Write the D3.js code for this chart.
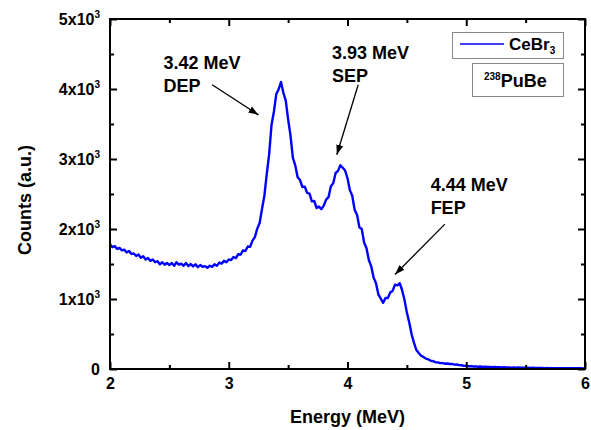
<!DOCTYPE html>
<html>
<head>
<meta charset="utf-8">
<script src="https://cdn.jsdelivr.net/npm/d3@7"></script>
<style>
  body { margin: 0; background: #fff; }
  text { font-family: "Liberation Sans", Arial, sans-serif; font-weight: bold; }
</style>
</head>
<body>
<div class="container"></div>
<script>
// energy grid (MeV), one bin every 0.02 MeV from 2 to 6
var energyStart = 2, energyStep = 0.02;

// counts, 10 bins per row (0.2 MeV)
var counts = [
  1780, 1740, 1755, 1715, 1730, 1695, 1705, 1665, 1685, 1645,
  1650, 1615, 1635, 1590, 1610, 1565, 1585, 1545, 1565, 1525,
  1540, 1495, 1525, 1490, 1515, 1485, 1515, 1475, 1525, 1490,
  1505, 1475, 1515, 1470, 1500, 1465, 1495, 1455, 1485, 1460,
  1470, 1445, 1475, 1460, 1495, 1475, 1520, 1505, 1545, 1525,
  1565, 1555, 1600, 1585, 1640, 1635, 1695, 1685, 1750, 1745,
  1835, 1885, 2005, 2085, 2285, 2475, 2785, 3065, 3485, 3675,
  3925, 3995, 4100, 3945, 3835, 3565, 3335, 3015, 2910, 2740,
  2700, 2600, 2605, 2515, 2505, 2395, 2400, 2300, 2320, 2285,
  2335, 2420, 2455, 2610, 2655, 2800, 2830, 2910, 2875, 2835,
  2725, 2555, 2475, 2275, 2205, 2025, 2000, 1805, 1725, 1555,
  1465, 1305, 1225, 1065, 1005, 945, 1015, 1015, 1095, 1115,
  1205, 1195, 1225, 1125, 985, 805, 665, 495, 375, 270,
  228, 188, 172, 148, 138, 118, 112, 97, 94, 84,
  85, 76, 79, 71, 72, 63, 64, 55, 54, 45,
  47, 39, 41, 36, 38, 33, 35, 30, 32, 28,
  30, 27, 28, 25, 26, 23, 25, 22, 23, 20,
  22, 19, 21, 18, 19, 17, 18, 16, 17, 15,
  16, 14, 15, 13, 14, 12, 13, 12, 12, 11,
  12, 11, 11, 10, 11, 10, 10, 10, 10, 9,
  10
];

var xTicks = [2, 3, 4, 5, 6];
var xMinor = [2.5, 3.5, 4.5, 5.5];
var yTicks = [0, 1000, 2000, 3000, 4000, 5000];
var yMinor = [500, 1500, 2500, 3500, 4500];

// peak labels: [energy, counts] of text anchor and arrow
var peakNames = ["3.42 MeV", "3.93 MeV", "4.44 MeV"];
var peakTags = ["DEP", "SEP", "FEP"];
var peakLabelPos = [[2.45, 4290], [3.87, 4430], [4.7, 2540]];
var arrowFrom = [[2.86, 4060], [4.09, 4060], [4.82, 2070]];
var arrowTo = [[3.25, 3630], [3.91, 3060], [4.4, 1350]];

var W = 591, H = 430;
var margin = {left: 110, right: 6, top: 19, bottom: 61};

var svg = d3.select('.container').append('svg')
    .attr('width', W).attr('height', H);

var x = d3.scaleLinear().domain([2, 6]).range([margin.left, W - margin.right]);
var y = d3.scaleLinear().domain([0, 5000]).range([H - margin.bottom, margin.top]);

var data = counts.map(function(c, i) {
  return {e: energyStart + i * energyStep, c: c};
});

// spectrum
var line = d3.line()
    .x(function(d) { return x(d.e); })
    .y(function(d) { return y(d.c); });

svg.append('path')
    .datum(data)
    .attr('d', line)
    .attr('fill', 'none')
    .attr('stroke', '#0000ff')
    .attr('stroke-width', 2.4)
    .attr('stroke-linejoin', 'round');

// axes, ticks pointing inward on all four sides
var yLabel = function(v) { return v === 0 ? '0' : (v / 1000) + 'x10'; };

svg.append('g').attr('transform', 'translate(0,' + y(0) + ')')
    .call(d3.axisBottom(x).tickValues(xTicks).tickSizeInner(-7).tickSizeOuter(0).tickPadding(9).tickFormat(d3.format('d')));
svg.append('g').attr('transform', 'translate(0,' + y(0) + ')')
    .call(d3.axisBottom(x).tickValues(xMinor).tickSizeInner(-4).tickSizeOuter(0).tickFormat(''));
svg.append('g').attr('transform', 'translate(0,' + y(5000) + ')')
    .call(d3.axisTop(x).tickValues(xTicks).tickSizeInner(-7).tickSizeOuter(0).tickFormat(''));
svg.append('g').attr('transform', 'translate(0,' + y(5000) + ')')
    .call(d3.axisTop(x).tickValues(xMinor).tickSizeInner(-4).tickSizeOuter(0).tickFormat(''));

var gy = svg.append('g').attr('transform', 'translate(' + x(2) + ',0)')
    .call(d3.axisLeft(y).tickValues(yTicks).tickSizeInner(-7).tickSizeOuter(0).tickPadding(10).tickFormat(yLabel));
svg.append('g').attr('transform', 'translate(' + x(2) + ',0)')
    .call(d3.axisLeft(y).tickValues(yMinor).tickSizeInner(-4).tickSizeOuter(0).tickFormat(''));
svg.append('g').attr('transform', 'translate(' + x(6) + ',0)')
    .call(d3.axisRight(y).tickValues(yTicks).tickSizeInner(-7).tickSizeOuter(0).tickFormat(''));
svg.append('g').attr('transform', 'translate(' + x(6) + ',0)')
    .call(d3.axisRight(y).tickValues(yMinor).tickSizeInner(-4).tickSizeOuter(0).tickFormat(''));

svg.selectAll('.domain').remove();
svg.selectAll('.tick line').attr('stroke', '#000').attr('stroke-width', 2);
svg.selectAll('.tick text').attr('fill', '#000')
    .style('font-size', '16px').style('font-family', '"Liberation Sans", Arial, sans-serif').style('font-weight', 'bold');

// superscript 3 on the y labels
gy.selectAll('.tick text').filter(function(d) { return d !== 0; })
    .append('tspan').attr('dy', '-7').style('font-size', '10px').text('3');

// frame
svg.append('rect')
    .attr('x', x(2)).attr('y', y(5000))
    .attr('width', x(6) - x(2)).attr('height', y(0) - y(5000))
    .attr('fill', 'none').attr('stroke', '#000').attr('stroke-width', 2);

// axis titles
svg.append('text')
    .attr('x', (x(2) + x(6)) / 2).attr('y', 423)
    .attr('text-anchor', 'middle').style('font-size', '18px')
    .text('Energy (MeV)');
svg.append('text')
    .attr('transform', 'translate(31,200) rotate(-90)')
    .attr('text-anchor', 'middle').style('font-size', '18px')
    .text('Counts (a.u.)');

// arrow head
svg.append('defs').append('marker')
    .attr('id', 'head').attr('viewBox', '0 0 10 10')
    .attr('refX', 10).attr('refY', 5)
    .attr('markerWidth', 10).attr('markerHeight', 10)
    .attr('markerUnits', 'userSpaceOnUse')
    .attr('orient', 'auto')
  .append('path').attr('d', 'M0,1.5 L10,5 L0,8.5 Z').attr('fill', '#000');

peakNames.forEach(function(name, i) {
  var t = svg.append('text')
      .attr('x', x(peakLabelPos[i][0])).attr('y', y(peakLabelPos[i][1]))
      .style('font-size', '18px');
  t.append('tspan').text(name);
  t.append('tspan').attr('x', x(peakLabelPos[i][0])).attr('dy', 23).text(peakTags[i]);

  svg.append('line')
      .attr('x1', x(arrowFrom[i][0])).attr('y1', y(arrowFrom[i][1]))
      .attr('x2', x(arrowTo[i][0])).attr('y2', y(arrowTo[i][1]))
      .attr('stroke', '#000').attr('stroke-width', 1.3)
      .attr('marker-end', 'url(#head)');
});

// legend
var lg = svg.append('g');
lg.append('rect').attr('x', 452.5).attr('y', 32.5).attr('width', 111).attr('height', 26)
    .attr('fill', '#fff').attr('stroke', '#888').attr('stroke-width', 1);
lg.append('line').attr('x1', 460).attr('x2', 504).attr('y1', 44).attr('y2', 44)
    .attr('stroke', '#0000ff').attr('stroke-width', 1.5);
var lt = lg.append('text').attr('x', 509).attr('y', 50).style('font-size', '17px');
lt.append('tspan').text('CeBr');
lt.append('tspan').attr('dy', 4).style('font-size', '10px').text('3');

lg.append('rect').attr('x', 472.5).attr('y', 63.5).attr('width', 91).attr('height', 33)
    .attr('fill', '#fff').attr('stroke', '#888').attr('stroke-width', 1);
var st = lg.append('text').attr('x', 484).attr('y', 87).style('font-size', '18px');
st.append('tspan').attr('dy', -7).style('font-size', '10px').text('238');
st.append('tspan').attr('dy', 7).text('PuBe');
</script>
</body>
</html>
